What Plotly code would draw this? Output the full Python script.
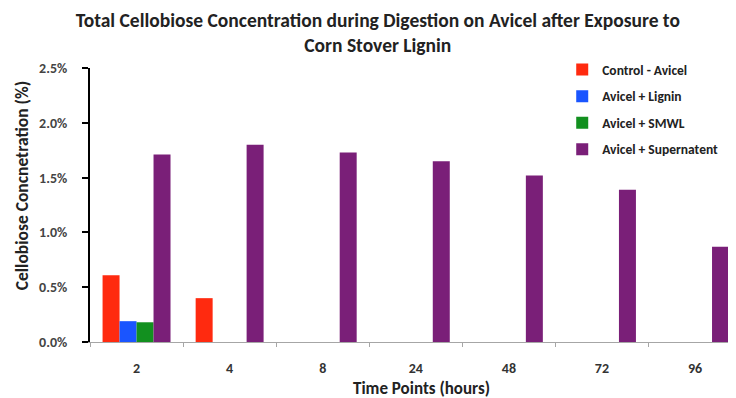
import plotly.graph_objects as go

time_points = ["2", "4", "8", "24", "48", "72", "96"]

control_avicel = [0.0061, 0.0040, None, None, None, None, None]
avicel_lignin = [0.0019, None, None, None, None, None, None]
avicel_smwl = [0.0018, None, None, None, None, None, None]
avicel_supernatent = [0.0171, 0.0180, 0.0173, 0.0165, 0.0152, 0.0139, 0.0087]

series = [
    ("Control - Avicel", control_avicel, "#ff2a0f"),
    ("Avicel + Lignin", avicel_lignin, "#1a55ff"),
    ("Avicel + SMWL", avicel_smwl, "#12901f"),
    ("Avicel + Supernatent", avicel_supernatent, "#7a1f78"),
]

font_family = "Carlito, Lato, sans-serif"
y_range = [0, 0.025]

fig = go.Figure()
for name, values, color in series:
    fig.add_trace(
        go.Bar(
            x=time_points,
            y=values,
            name=name,
            legendgroup=name,
            marker=dict(color=color, line=dict(width=0)),
        )
    )

# the page body has an 8px margin, so the figure is a bit smaller than the window
fig.update_layout(
    width=728,
    height=390,
    barmode="group",
    bargap=0.27,
    bargroupgap=0,
    plot_bgcolor="white",
    paper_bgcolor="white",
    margin=dict(l=82, r=0, t=60, b=56),
    font=dict(family=font_family, color="#404040"),
    title=dict(
        text="Total Cellobiose Concentration during Digestion on Avicel after Exposure to<br>Corn Stover Lignin",
        x=0.508,
        xanchor="center",
        y=0.951,
        yanchor="middle",
        font=dict(size=19.5, color="#222222", family=font_family, weight="bold"),
    ),
    legend=dict(
        x=0.731,
        y=1.05,
        xanchor="left",
        yanchor="top",
        font=dict(size=13.5, color="#222222", family=font_family, weight="bold"),
        traceorder="grouped",
        tracegroupgap=6,
        itemwidth=30,
        bgcolor="rgba(0,0,0,0)",
    ),
    xaxis=dict(
        type="category",
        range=[-0.5, 6.44],
        showline=True,
        linecolor="#a6a6a6",
        linewidth=1,
        ticks="outside",
        tickson="boundaries",
        ticklen=4,
        tickcolor="#a6a6a6",
        ticklabelstandoff=13,
        tickfont=dict(size=14, color="#333333", family=font_family, weight="bold"),
    ),
    yaxis=dict(
        range=y_range,
        dtick=0.005,
        tickformat=".1%",
        showgrid=False,
        zeroline=False,
        showline=True,
        linecolor="black",
        linewidth=2,
        ticks="outside",
        ticklen=6,
        tickwidth=2,
        tickcolor="black",
        ticklabelstandoff=12,
        tickfont=dict(size=14, color="#444444", family=font_family, weight="bold"),
    ),
    # second axis only to draw the inner half of the crossing ticks
    yaxis2=dict(
        overlaying="y",
        side="left",
        range=y_range,
        dtick=0.005,
        showgrid=False,
        zeroline=False,
        showline=False,
        showticklabels=False,
        ticks="inside",
        ticklen=6,
        tickwidth=2,
        tickcolor="black",
    ),
    annotations=[
        dict(
            text="Time Points (hours)",
            xref="paper",
            yref="paper",
            x=0.513,
            y=-0.17,
            xanchor="center",
            yanchor="middle",
            showarrow=False,
            font=dict(size=17, color="#222222", family=font_family, weight="bold"),
        ),
        dict(
            text="Cellobiose Concnetration (%)",
            xref="paper",
            yref="paper",
            x=-0.105,
            y=0.569,
            xanchor="center",
            yanchor="middle",
            textangle=-90,
            showarrow=False,
            font=dict(size=17.5, color="#222222", family=font_family, weight="bold"),
        ),
    ],
)

fig.write_html("out.html")
